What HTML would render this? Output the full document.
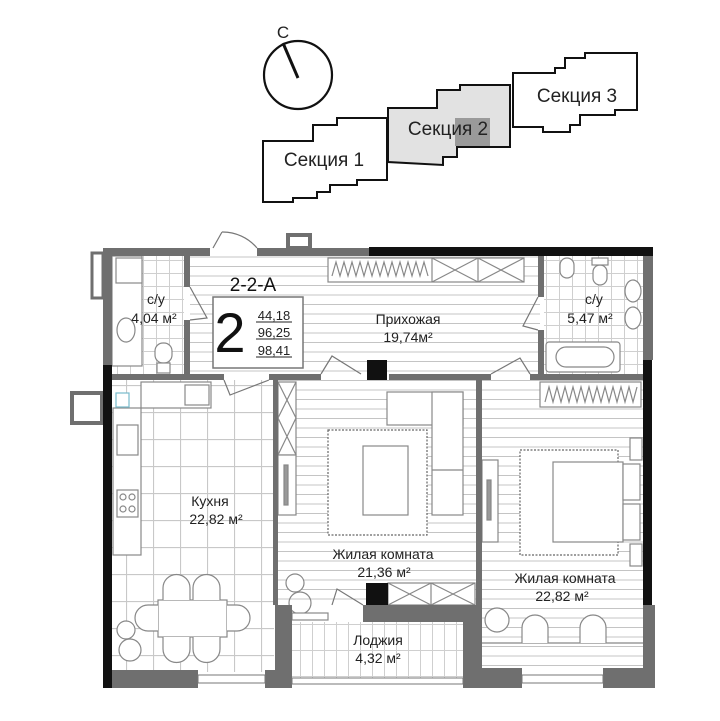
<!DOCTYPE html>
<html><head><meta charset="utf-8"><style>
html,body{margin:0;padding:0;background:#fff;}
svg{display:block;font-family:"Liberation Sans",sans-serif;}
</style></head><body>
<svg width="720" height="721" viewBox="0 0 720 721" xmlns="http://www.w3.org/2000/svg">
<defs>
<pattern id="hl" width="10" height="9.5" patternUnits="userSpaceOnUse"><rect width="10" height="9.5" fill="#fff"/><line x1="0" y1="0.5" x2="10" y2="0.5" stroke="#c4c4c4" stroke-width="1"/></pattern>
<pattern id="kt" x="126" y="385" width="27" height="27" patternUnits="userSpaceOnUse"><rect width="27" height="27" fill="#fff"/><path d="M0 0.5H27M0.5 0V27" stroke="#c8c8c8" stroke-width="1.2" fill="none"/></pattern>
<pattern id="wt" x="0" y="0" width="13" height="13" patternUnits="userSpaceOnUse"><rect width="13" height="13" fill="#fff"/><path d="M0 0.5H13M0.5 0V13" stroke="#cfcfcf" stroke-width="1" fill="none"/></pattern>
<pattern id="lt" x="0" y="0" width="12" height="26" patternUnits="userSpaceOnUse"><rect width="12" height="26" fill="#fff"/><path d="M0 0.5H12M0.5 0V26" stroke="#cfcfcf" stroke-width="1" fill="none"/></pattern>
</defs>

<!-- compass -->
<circle cx="298" cy="75" r="34" fill="none" stroke="#111" stroke-width="2.2"/>
<line x1="283" y1="43" x2="298" y2="78" stroke="#111" stroke-width="3"/>
<text x="283" y="38" font-size="17" text-anchor="middle" fill="#222">С</text>

<!-- sections -->
<g stroke="#111" stroke-width="2" fill="#fff">
<polygon points="263,141 313,141 313,125 337,125 337,118 387,118 387,180 357,180 357,185 330,185 330,192 317,192 317,198 293,198 293,202 263,202"/>
<polygon points="388,108 437,108 437,90 460,90 460,85 510,85 510,147 457,147 457,157 443,157 443,165 388,162" fill="#e2e2e2"/>
<polygon points="513,73 555,73 555,68 565,68 565,58 585,58 585,53 637,53 637,110 615,110 615,115 580,115 580,125 570,125 570,132 543,132 543,127 513,127"/>
</g>
<rect x="455" y="118" width="35" height="28" fill="#9a9a9a"/>
<text x="324" y="166" font-size="19" text-anchor="middle" fill="#222">Секция 1</text>
<text x="448" y="135" font-size="19" text-anchor="middle" fill="#222">Секция 2</text>
<text x="577" y="102" font-size="19" text-anchor="middle" fill="#222">Секция 3</text>

<!-- floors -->
<rect x="190" y="256" width="350" height="120" fill="url(#hl)"/>
<rect x="278" y="380" width="198" height="225" fill="url(#hl)"/>
<rect x="482" y="380" width="162" height="290" fill="url(#hl)"/>
<rect x="112" y="380" width="162" height="292" fill="url(#kt)"/>
<rect x="112" y="256" width="72" height="120" fill="url(#wt)"/>
<rect x="544" y="256" width="100" height="120" fill="url(#wt)"/>
<rect x="292" y="622" width="171" height="56" fill="url(#lt)"/>

<!-- furniture -->
<g fill="#fff" stroke="#888" stroke-width="1.2">
<rect x="112" y="256" width="30" height="110"/>
<rect x="116" y="258" width="26" height="25"/>
<ellipse cx="126" cy="330" rx="9" ry="12"/>
<rect x="155" y="343" width="17" height="20" rx="8"/>
<rect x="157" y="363" width="13" height="10"/>
<rect x="328" y="258" width="196" height="24"/>
<line x1="432" y1="258" x2="432" y2="282"/><line x1="478" y1="258" x2="478" y2="282"/>
<path d="M432 258L478 282M478 258L432 282M478 258L524 282M524 258L478 282"/>
<path d="M332 276 L336 262 L340 276 L344 262 L348 276 L352 262 L356 276 L360 262 L364 276 L368 262 L372 276 L376 262 L380 276 L384 262 L388 276 L392 262 L396 276 L400 262 L404 276 L408 262 L412 276 L416 262 L420 276 L424 262 L428 276" fill="none"/>
<rect x="546" y="342" width="74" height="30" rx="3"/>
<rect x="556" y="347" width="58" height="20" rx="10"/>
<rect x="560" y="258" width="14" height="20" rx="7"/>
<rect x="593" y="265" width="14" height="20" rx="7"/>
<rect x="592" y="258" width="16" height="7"/>
<ellipse cx="633" cy="291" rx="8" ry="11"/>
<ellipse cx="633" cy="318" rx="8" ry="11"/>
<rect x="540" y="382" width="101" height="25"/>
<path d="M545 402 L549 387 L553 402 L557 387 L561 402 L565 387 L569 402 L573 387 L577 402 L581 387 L585 402 L589 387 L593 402 L597 387 L601 402 L605 387 L609 402 L613 387 L617 402 L621 387 L625 402 L629 387 L633 402 L637 387" fill="none"/>
<rect x="113" y="408" width="28" height="147"/>
<rect x="141" y="382" width="70" height="26"/>
<rect x="185" y="385" width="24" height="20"/>
<rect x="116" y="393" width="13" height="14" stroke="#7bc"/>
<rect x="117" y="425" width="21" height="30"/>
<rect x="117" y="490" width="21" height="27"/>
<circle cx="123" cy="497" r="3"/><circle cx="132" cy="497" r="3"/><circle cx="123" cy="509" r="3"/><circle cx="132" cy="509" r="3"/>
<rect x="158" y="600" width="69" height="37"/>
<path d="M163 600 v-12 a13 13 0 0 1 27 0 v12 M193 600 v-12 a13 13 0 0 1 27 0 v12 M163 637 v12 a13 13 0 0 0 27 0 v-12 M193 637 v12 a13 13 0 0 0 27 0 v-12 M158 605 h-10 a13 13 0 0 0 0 26 h10 M227 605 h10 a13 13 0 0 1 0 26 h-10"/>
<circle cx="126" cy="630" r="9"/><circle cx="130" cy="650" r="11"/>
<rect x="278" y="382" width="18" height="73"/>
<path d="M278 382L296 418M296 382L278 418M278 418L296 455M296 418L278 455"/>
<rect x="278" y="455" width="18" height="60"/>
<rect x="284" y="465" width="4" height="40" fill="#999"/>
<rect x="387" y="392" width="76" height="33"/>
<rect x="432" y="392" width="31" height="123"/>
<line x1="432" y1="470" x2="463" y2="470"/>
<rect x="328" y="430" width="99" height="105" stroke="#666" stroke-dasharray="2 1.5"/>
<rect x="363" y="446" width="45" height="69"/>
<circle cx="295" cy="583" r="9"/><circle cx="300" cy="603" r="11" fill="none"/>
<rect x="388" y="583" width="87" height="22"/>
<path d="M388 583L431 605M431 583L388 605M431 583L475 605M475 583L431 605"/>
<line x1="431" y1="583" x2="431" y2="605"/>
<rect x="482" y="460" width="16" height="82"/>
<rect x="487" y="480" width="4" height="40" fill="#999"/>
<rect x="520" y="450" width="98" height="105" stroke="#666" stroke-dasharray="2 1.5"/>
<rect x="553" y="462" width="70" height="80"/>
<rect x="623" y="464" width="17" height="36"/><rect x="623" y="504" width="17" height="36"/>
<rect x="630" y="438" width="12" height="22"/><rect x="630" y="544" width="12" height="22"/>
<line x1="482" y1="643" x2="643" y2="643"/>
<circle cx="497" cy="620" r="12"/>
<path d="M522 643 v-15 a13 13 0 0 1 26 0 v15 M580 643 v-15 a13 13 0 0 1 26 0 v15"/>
<rect x="292" y="613" width="36" height="7"/>
</g>

<!-- walls grey -->
<g fill="#6f6f6f">
<rect x="103" y="248" width="107" height="8"/>
<rect x="257" y="248" width="112" height="8"/>
<rect x="103" y="248" width="9" height="118"/>
<rect x="184" y="256" width="6" height="31"/>
<rect x="184" y="320" width="6" height="60"/>
<rect x="112" y="374" width="112" height="6"/>
<rect x="269" y="374" width="52" height="6"/>
<rect x="389" y="374" width="102" height="6"/>
<rect x="530" y="374" width="114" height="6"/>
<rect x="538" y="256" width="6" height="41"/>
<rect x="538" y="330" width="6" height="46"/>
<rect x="643" y="248" width="10" height="112"/>
<rect x="273" y="380" width="5" height="225"/>
<rect x="476" y="380" width="6" height="290"/>
<rect x="275" y="605" width="17" height="83"/>
<rect x="363" y="605" width="117" height="17"/>
<rect x="463" y="622" width="19" height="66"/>
<rect x="112" y="670" width="86" height="18"/>
<rect x="265" y="670" width="10" height="18"/>
<rect x="482" y="668" width="40" height="20"/>
<rect x="603" y="668" width="50" height="20"/>
<rect x="643" y="605" width="12" height="83"/>
<rect x="92" y="253" width="11" height="45" fill="none" stroke="#6f6f6f" stroke-width="3"/>
<rect x="288" y="235" width="22" height="13" fill="none" stroke="#6f6f6f" stroke-width="4"/>
<rect x="72" y="393" width="30" height="30" fill="none" stroke="#6f6f6f" stroke-width="4"/>
</g>
<g fill="#111">
<rect x="369" y="247" width="284" height="9"/>
<rect x="103" y="365" width="9" height="323"/>
<rect x="643" y="360" width="9" height="245"/>
<rect x="367" y="360" width="20" height="20"/>
<rect x="366" y="583" width="22" height="22"/>
</g>
<g fill="#fff" stroke="#777" stroke-width="1">
<rect x="198" y="675" width="67" height="8"/>
<rect x="522" y="675" width="81" height="8"/>
<rect x="292" y="678" width="171" height="6"/>
</g>
<g fill="none" stroke="#777" stroke-width="1.2">
<path d="M213 248 L222 232 M222 232 A45 45 0 0 1 257 248"/>
<path d="M190 287 L207 318 L190 320"/>
<path d="M538 297 L523 326 L538 330"/>
<path d="M224 380 L230 395 L269 380"/>
<path d="M321 374 L332 356 L361 374"/>
<path d="M491 374 L520 358 L530 374"/>
<path d="M332 605 L337 589 L363 605"/>
</g>

<text x="253" y="291" font-size="19" text-anchor="middle" fill="#111">2-2-А</text>
<rect x="213" y="297" width="90" height="71" fill="#fff" stroke="#777" stroke-width="1.5"/>
<text x="230" y="352" font-size="56" text-anchor="middle" fill="#111">2</text>
<g font-size="13" fill="#222" text-anchor="middle">
<text x="274" y="320">44,18</text><text x="274" y="337">96,25</text><text x="274" y="355">98,41</text>
</g>
<g stroke="#222" stroke-width="1"><line x1="256" y1="322" x2="292" y2="322"/><line x1="256" y1="339" x2="292" y2="339"/><line x1="256" y1="357" x2="292" y2="357"/></g>

<g font-size="14" fill="#222" text-anchor="middle">
<text x="156" y="304">с/у</text><text x="154" y="323">4,04 м²</text>
<text x="408" y="324">Прихожая</text><text x="408" y="342">19,74м²</text>
<text x="594" y="304">с/у</text><text x="590" y="323">5,47 м²</text>
<text x="210" y="506">Кухня</text><text x="216" y="524">22,82 м²</text>
<text x="383" y="559">Жилая комната</text><text x="384" y="577">21,36 м²</text>
<text x="565" y="583">Жилая комната</text><text x="562" y="601">22,82 м²</text>
<text x="378" y="645">Лоджия</text><text x="378" y="663">4,32 м²</text>
</g>
</svg>
</body></html>
